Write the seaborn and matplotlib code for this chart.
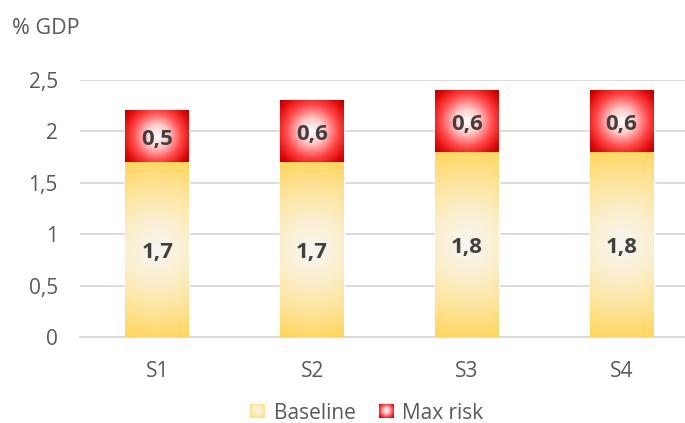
import numpy as np
import pandas as pd
import matplotlib
matplotlib.use("Agg")
import matplotlib.pyplot as plt
import seaborn as sns
from matplotlib.colors import LinearSegmentedColormap
from matplotlib.patches import Rectangle

categories = ["S1", "S2", "S3", "S4"]
baseline = [1.7, 1.7, 1.8, 1.8]
max_risk = [0.5, 0.6, 0.6, 0.6]
yticks = [0, 0.5, 1, 1.5, 2, 2.5]
ytick_labels = ["0", "0,5", "1", "1,5", "2", "2,5"]
series_names = ["Baseline", "Max risk"]

def fmt(v):
    return f"{v:.1f}".replace(".", ",")

sns.set_theme(style="white")
plt.rcParams['font.family'] = ['Open Sans', 'DejaVu Sans']

W, H = 685, 423
fig = plt.figure(figsize=(W / 100, H / 100), dpi=100)
ax = fig.add_axes([80 / W, 86 / H, 619 / W, 257 / H])

totals = [b + m for b, m in zip(baseline, max_risk)]
df = pd.DataFrame({"cat": categories, "baseline": baseline, "total": totals})
bw = 0.413
sns.barplot(data=df, x="cat", y="total", color="#FF3030", width=bw, ax=ax,
            saturation=1, zorder=2, errorbar=None)
sns.barplot(data=df, x="cat", y="baseline", color="#FFD966", width=bw, ax=ax,
            saturation=1, zorder=2, errorbar=None)

ax.set_xlim(-0.5, 3.5)
ax.set_ylim(0, 2.5)

red_cmap = LinearSegmentedColormap.from_list(
    "red", [(0, "#FFFFFF"), (0.28, "#FFC8C8"), (0.6, "#FF4545"), (0.85, "#E00808"), (1.0, "#B00000")])
gold_cmap = LinearSegmentedColormap.from_list(
    "gold", [(0, "#F6F5F3"), (0.35, "#FBEFCB"), (0.7, "#FFE394"), (1.0, "#FFD55A")])

fig.canvas.draw()

def grad(wpx, hpx, n=200):
    u = np.linspace(-wpx / 2, wpx / 2, n)
    v = np.linspace(-hpx / 2, hpx / 2, n)
    U, V = np.meshgrid(u, v)
    return np.sqrt(U ** 2 + V ** 2) / np.sqrt((wpx / 2) ** 2 + (hpx / 2) ** 2)

px_per_x = ax.bbox.width / 4.0
px_per_y = ax.bbox.height / 2.5

red_patches = ax.patches[:4]
gold_patches = ax.patches[4:8]
for i in range(4):
    p = gold_patches[i]
    x0, w = p.get_x(), p.get_width()
    y0, y1 = 0, baseline[i]
    g = grad(w * px_per_x, (y1 - y0) * px_per_y)
    ax.imshow(g, cmap=gold_cmap, vmin=0, vmax=1, extent=(x0, x0 + w, y0, y1),
              aspect="auto", zorder=3, interpolation="bilinear")
    p = red_patches[i]
    x0, w = p.get_x(), p.get_width()
    y0, y1 = baseline[i], totals[i]
    g = grad(w * px_per_x, (y1 - y0) * px_per_y)
    ax.imshow(g, cmap=red_cmap, vmin=0, vmax=1, extent=(x0, x0 + w, y0, y1),
              aspect="auto", zorder=3, interpolation="bilinear")
    ax.annotate(fmt(baseline[i]), (i, baseline[i] / 2), xytext=(0, -2.2),
                textcoords="offset points", ha="center", va="center",
                fontsize=16, fontweight="bold", color="#404040", zorder=5)
    ax.annotate(fmt(max_risk[i]), (i, baseline[i] + max_risk[i] / 2), xytext=(0, -2.2),
                textcoords="offset points", ha="center", va="center",
                fontsize=16, fontweight="bold", color="#404040", zorder=5)

ax.set_xlim(-0.5, 3.5)
ax.set_ylim(0, 2.5)
ax.set_yticks(yticks)
ax.set_yticklabels(ytick_labels)
ax.set_xlabel("")
ax.set_ylabel("")
ax.grid(axis="y", color="#D9D9D9", linewidth=1.3, zorder=0)
ax.set_axisbelow(True)
for s in ["top", "right", "left"]:
    ax.spines[s].set_visible(False)
ax.spines["bottom"].set_color("#D9D9D9")
ax.spines["bottom"].set_linewidth(1.3)
ax.tick_params(axis="y", length=0, pad=16, labelsize=15, labelcolor="#595959")
ax.tick_params(axis="x", length=0, pad=17, labelsize=15, labelcolor="#595959")

fig.text(12 / W, 1 - 28 / H, "% GDP", ha="left", va="center", fontsize=15.5, color="#595959")

handles = [Rectangle((0, 0), 1, 1, facecolor="#FFE394", edgecolor="none"),
           Rectangle((0, 0), 1, 1, facecolor="#FF3030", edgecolor="none")]
leg = fig.legend(handles, series_names, loc="center", bbox_to_anchor=(367 / W, 1 - 413 / H),
                 ncol=2, frameon=False, fontsize=15, handlelength=0.68, handleheight=0.68,
                 handletextpad=0.45, columnspacing=1.1, labelcolor="#595959")
fig.canvas.draw()
for h, cmap in zip(leg.legend_handles, [gold_cmap, red_cmap]):
    bb = h.get_window_extent(fig.canvas.get_renderer())
    iax = fig.add_axes([bb.x0 / W, bb.y0 / H, bb.width / W, bb.height / H])
    iax.set_zorder(20)
    iax.imshow(grad(bb.width, bb.height), cmap=cmap, vmin=0, vmax=1, aspect="auto",
               interpolation="bilinear")
    iax.axis("off")

fig.savefig("out.png", dpi=100)
